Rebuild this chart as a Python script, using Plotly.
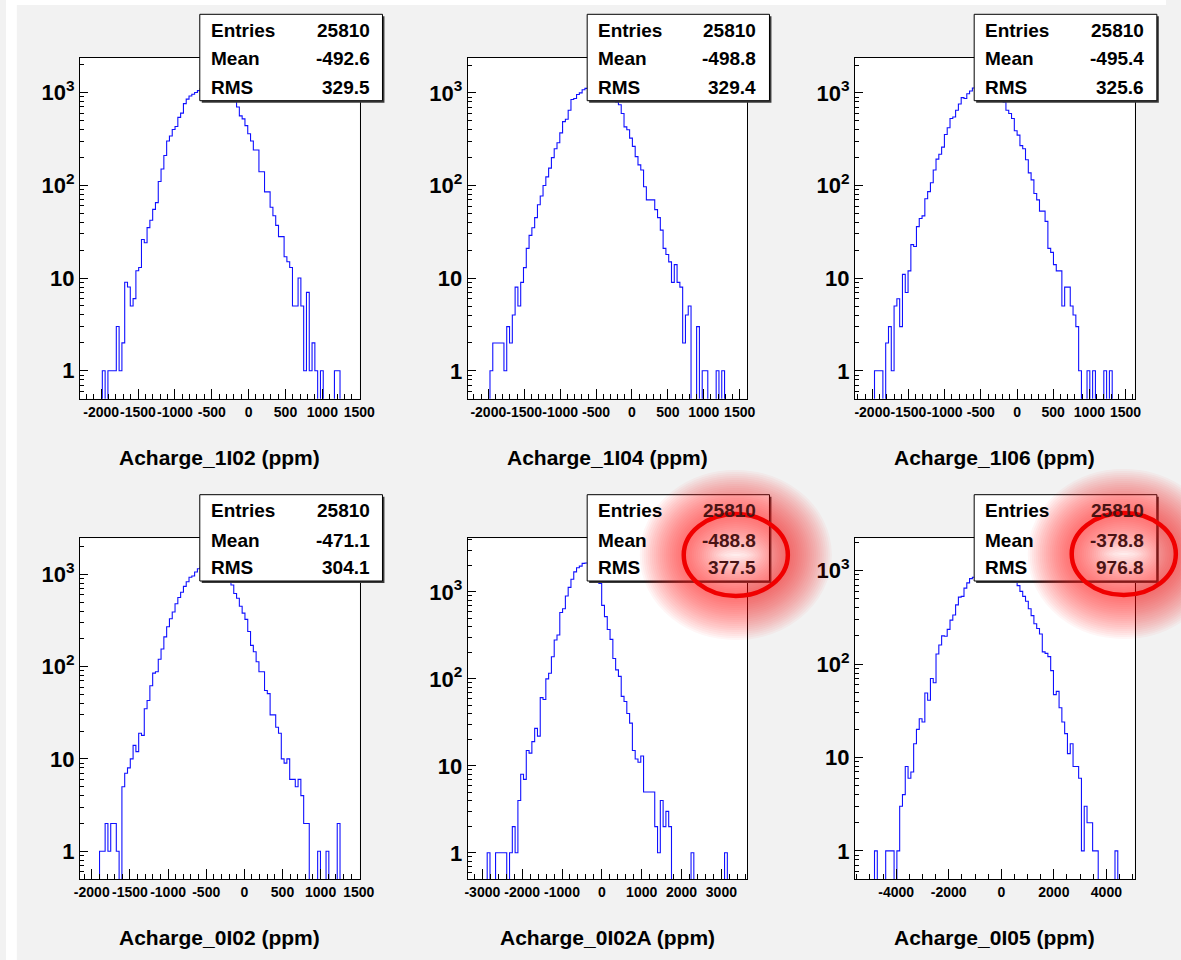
import plotly.graph_objects as go
import math

W, H = 1181, 960
FONT = "Liberation Sans, Arial, Helvetica, sans-serif"

# ---------------- data ----------------
names = ["Acharge_1I02", "Acharge_1I04", "Acharge_1I06",
         "Acharge_0I02", "Acharge_0I02A", "Acharge_0I05"]
entries = [25810, 25810, 25810, 25810, 25810, 25810]
means = [-492.6, -498.8, -495.4, -471.1, -488.8, -378.8]
rms_vals = [329.5, 329.4, 325.6, 304.1, 377.5, 976.8]

x_min = [-2287, -2288, -2240, -2155, -3369, -5570]
x_max = [1505, 1600, 1624, 1511, 3640, 5072]
y_max = [2377, 2399, 2399, 2455, 4140, 2218]
y_min = 0.5

xtick_vals = [
    [-2000, -1500, -1000, -500, 0, 500, 1000, 1500],
    [-2000, -1500, -1000, -500, 0, 500, 1000, 1500],
    [-2000, -1500, -1000, -500, 0, 500, 1000, 1500],
    [-2000, -1500, -1000, -500, 0, 500, 1000, 1500],
    [-3000, -2000, -1000, 0, 1000, 2000, 3000],
    [-4000, -2000, 0, 2000, 4000],
]
x_minor_step = [100, 100, 100, 100, 200, 500]
ytick_vals = [1, 10, 100, 1000]
ytick_text = ["1", "10", "10<sup>2</sup>", "10<sup>3</sup>"]

counts_1I02 = [
    0, 0, 0, 0, 0, 0, 0, 0, 1, 0,
    1, 1, 1, 3, 1, 2, 9, 8, 5, 6,
    12, 13, 26, 24, 35, 42, 55, 65, 110, 150,
    210, 300, 340, 400, 430, 540, 600, 760, 850, 920,
    960, 1000, 1050, 1100, 1150, 1180, 1210, 1220, 1210, 1190,
    1150, 1100, 1040, 970, 890, 800, 700, 560, 520, 440,
    360, 300, 240, 240, 140, 140, 85, 85, 58, 47,
    37, 28, 28, 17, 15, 13, 5, 5, 10, 5,
    1, 7, 1, 2, 1, 0, 1, 0, 0, 0,
    0, 1, 1, 0, 0, 0, 0, 0, 0, 0,
]
counts_1I04 = [
    0, 0, 0, 0, 0, 0, 0, 0, 1, 2,
    2, 2, 2, 1, 3, 2, 4, 8, 5, 9,
    13, 21, 29, 35, 45, 62, 77, 100, 124, 154,
    200, 250, 290, 370, 490, 520, 650, 850, 870, 960,
    1000, 1080, 1120, 1160, 1190, 1210, 1220, 1210, 1180, 1130,
    1060, 980, 890, 800, 745, 600, 430, 400, 325, 265,
    205, 167, 147, 97, 70, 70, 70, 55, 45, 33,
    21, 18, 15, 9, 14, 9, 8, 2, 4, 5,
    0, 0, 3, 0, 1, 1, 0, 0, 0, 1,
    0, 1, 0, 0, 0, 0, 0, 0, 0, 0,
]
counts_1I06 = [
    0, 0, 0, 0, 0, 0, 0, 1, 1, 1,
    0, 2, 3, 1, 5, 6, 3, 11, 7, 12,
    23, 22, 36, 44, 47, 72, 86, 107, 147, 193,
    218, 260, 355, 420, 530, 550, 650, 760, 890, 870,
    980, 1050, 1130, 1170, 1200, 1220, 1220, 1200, 1170, 1120,
    1060, 990, 900, 800, 650, 600, 530, 390, 350, 270,
    250, 190, 137, 115, 82, 70, 53, 53, 41, 21,
    19, 14, 12, 12, 5, 8, 8, 5, 4, 3,
    1, 0, 0, 1, 0, 1, 0, 0, 0, 1,
    0, 1, 0, 0, 0, 0, 0, 0, 0, 0,
]
counts_0I02 = [
    0, 0, 0, 0, 0, 0, 0, 1, 1, 2,
    1, 2, 2, 1, 0, 5, 7, 8, 10, 14,
    12, 19, 18, 35, 43, 62, 85, 88, 120, 155,
    210, 270, 330, 390, 480, 560, 640, 740, 830, 930,
    960, 1060, 1150, 1190, 1220, 1240, 1240, 1220, 1180, 1120,
    1050, 970, 880, 820, 765, 620, 550, 450, 380, 325,
    240, 170, 145, 113, 88, 88, 55, 51, 30, 30,
    22, 19, 10, 9, 10, 6, 6, 5, 6, 4,
    2, 2, 0, 0, 0, 1, 0, 0, 1, 0,
    0, 0, 2, 0, 0, 0, 0, 0, 0, 0,
]
counts_0I02A = [
    0, 0, 0, 0, 0, 0, 0, 1, 0, 0,
    1, 1, 1, 1, 0, 1, 2, 1, 4, 8,
    7, 15, 14, 19, 27, 22, 61, 58, 100, 116,
    180, 280, 320, 580, 640, 900, 1130, 1400, 1700, 1900,
    1980, 2130, 2150, 2080, 1900, 1700, 1450, 1250, 700, 520,
    370, 285, 172, 127, 107, 63, 55, 40, 31, 15,
    12, 11, 13, 5, 5, 5, 5, 2, 1, 4,
    2, 3, 2, 0, 0, 0, 0, 0, 0, 0,
    1, 0, 0, 0, 0, 0, 0, 0, 0, 0,
    0, 0, 1, 0, 0, 0, 0, 0, 0, 0,
]
counts_0I05 = [
    0, 0, 0, 0, 0, 0, 0, 1, 0, 0,
    0, 1, 1, 1, 0, 1, 3, 4, 8, 6,
    7, 14, 20, 26, 24, 49, 41, 70, 63, 128,
    160, 200, 198, 235, 295, 335, 430, 520, 530, 650,
    740, 820, 850, 900, 950, 1000, 1040, 1070, 1090, 1090,
    1070, 1040, 1000, 950, 900, 850, 800, 760, 690, 600,
    530, 470, 390, 330, 270, 240, 210, 135, 130, 120,
    85, 47, 51, 34, 24, 18, 11, 14, 8, 8,
    6, 1, 3, 2, 2, 1, 1, 0, 0, 0,
    0, 0, 0, 1, 0, 0, 0, 0, 0, 0,
]
all_counts = [counts_1I02, counts_1I04, counts_1I06,
              counts_0I02, counts_0I02A, counts_0I05]
highlighted = [False, False, False, False, True, True]

# ---------------- layout geometry (pixels) ----------------
col_frames = [(75.3, 360.0), (470.0, 754.3), (864.3, 1149.0)]
row_frames = [(57.7, 398.7), (538.3, 879.0)]
stat_cols = [(197.3, 383.3, 207.0, 372.3), (591.7, 777.3, 600.7, 766.0),
             (985.7, 1171.7, 995.0, 1160.7)]
stat_rows = [(14.3, 100.7, [30.5, 59.0, 87.3]), (494.7, 581.0, [510.7, 540.0, 567.7])]
title_y = [457, 937]
glows = [(743, 555, 53, 41), (1138, 554, 53, 41)]


def px(x):
    return x / W


def py(y):
    return 1 - y / H


fig = go.Figure()
layout = dict(
    width=W, height=H, margin=dict(l=0, r=0, t=0, b=0),
    paper_bgcolor="#f2f2f2", plot_bgcolor="white", showlegend=False,
    font=dict(family=FONT, color="black"),
)
shapes = [
    dict(type="rect", xref="paper", yref="paper", x0=0, x1=px(11), y0=0, y1=1,
         fillcolor="white", line=dict(width=0), layer="below"),
    dict(type="rect", xref="paper", yref="paper", x0=0, x1=1, y0=py(5), y1=1,
         fillcolor="white", line=dict(width=0), layer="below"),
]
annotations = []

minor_y = [0.5]
for d in range(-1, 4):
    for m in range(2, 10):
        v = m * 10 ** d
        if v >= 0.5:
            minor_y.append(v)

for k in range(6):
    r, c = divmod(k, 3)
    xa = "xaxis" if k == 0 else f"xaxis{k+1}"
    ya = "yaxis" if k == 0 else f"yaxis{k+1}"
    xr = "x" if k == 0 else f"x{k+1}"
    yr = "y" if k == 0 else f"y{k+1}"
    x0f, x1f = col_frames[c]
    y0f, y1f = row_frames[r]

    n = len(all_counts[k])
    step = (x_max[k] - x_min[k]) / n
    edges = [x_min[k] + i * step for i in range(n + 1)]
    yvals = [v if v > 0 else 1e-3 for v in all_counts[k]]
    yvals = yvals + [yvals[-1]]
    fig.add_trace(go.Scatter(
        x=edges, y=yvals, mode="lines", line=dict(color="#1010ff", width=1.1, shape="hv"),
        xaxis=xr, yaxis=yr, hoverinfo="skip"))

    layout[xa] = dict(
        domain=[px(x0f), px(x1f)], anchor=yr, range=[x_min[k], x_max[k]],
        showline=True, mirror=True, linecolor="black", linewidth=1,
        ticks="inside", ticklen=10, tickwidth=1, tickcolor="black",
        tickvals=xtick_vals[k], ticktext=[str(v) for v in xtick_vals[k]],
        tickangle=0, showgrid=False, zeroline=False,
        tickfont=dict(family=FONT, size=14, color="black", weight="bold"),
        minor=dict(ticks="inside", ticklen=5, tickwidth=1, tickcolor="black",
                   dtick=x_minor_step[k], tick0=0, showgrid=False),
    )
    layout[ya] = dict(
        domain=[py(y1f), py(y0f)], anchor=xr, type="log",
        range=[math.log10(y_min), math.log10(y_max[k])],
        showline=True, mirror=True, linecolor="black", linewidth=1,
        ticks="inside", ticklen=8, tickwidth=1, tickcolor="black",
        tickvals=ytick_vals, ticktext=ytick_text, showgrid=False, zeroline=False,
        tickfont=dict(family=FONT, size=22, color="black", weight="bold"),
        minor=dict(ticks="inside", ticklen=4, tickwidth=1, tickcolor="black",
                   tickvals=minor_y, showgrid=False),
    )

    # x title
    annotations.append(dict(
        xref="paper", yref="paper", x=px((x0f + x1f) / 2), y=py(title_y[r]),
        text=f"{names[k]} (ppm)", showarrow=False, xanchor="center", yanchor="middle",
        font=dict(family=FONT, size=21, color="black", weight="bold")))

    # stats box
    bx0, bx1, tl, tr = stat_cols[c]
    by0, by1, rows = stat_rows[r]
    shapes.append(dict(type="rect", xref="paper", yref="paper",
                       x0=px(bx0 + 2), x1=px(bx1 + 2), y0=py(by1 + 2), y1=py(by0 + 2),
                       fillcolor="#3a3a3a", line=dict(width=0), layer="above"))
    shapes.append(dict(type="rect", xref="paper", yref="paper",
                       x0=px(bx0), x1=px(bx1), y0=py(by1), y1=py(by0),
                       fillcolor="white", line=dict(color="black", width=1), layer="above"))
    labels = ["Entries", "Mean", "RMS"]
    values = [str(entries[k]), f"{means[k]:.1f}", f"{rms_vals[k]:.1f}"]
    vcol = "#4a1414" if highlighted[k] else "black"
    for lab, val, yy in zip(labels, values, rows):
        annotations.append(dict(
            xref="paper", yref="paper", x=px(tl), y=py(yy), text=lab, showarrow=False,
            xanchor="left", yanchor="middle",
            font=dict(family=FONT, size=19, color="black", weight="bold")))
        annotations.append(dict(
            xref="paper", yref="paper", x=px(tr), y=py(yy), text=val, showarrow=False,
            xanchor="right", yanchor="middle",
            font=dict(family=FONT, size=19, color=vcol, weight="bold")))

# red glowing ellipses (soft halo built from many faint strokes)
for (cx, cy, rx, ry) in glows:
    for w in range(88, 3, -4):
        shapes.append(dict(type="circle", xref="paper", yref="paper",
                           x0=px(cx - rx), x1=px(cx + rx), y0=py(cy + ry), y1=py(cy - ry),
                           line=dict(color="rgba(255,20,20,0.038)", width=w), layer="above"))
    shapes.append(dict(type="circle", xref="paper", yref="paper",
                       x0=px(cx - rx), x1=px(cx + rx), y0=py(cy + ry), y1=py(cy - ry),
                       line=dict(color="#f00000", width=4.5), layer="above"))

layout["shapes"] = shapes
layout["annotations"] = annotations
fig.update_layout(**layout)

fig.write_html("out.html", config={"displayModeBar": False},
               post_script="document.body.style.margin='0';document.body.style.overflow='hidden';")
